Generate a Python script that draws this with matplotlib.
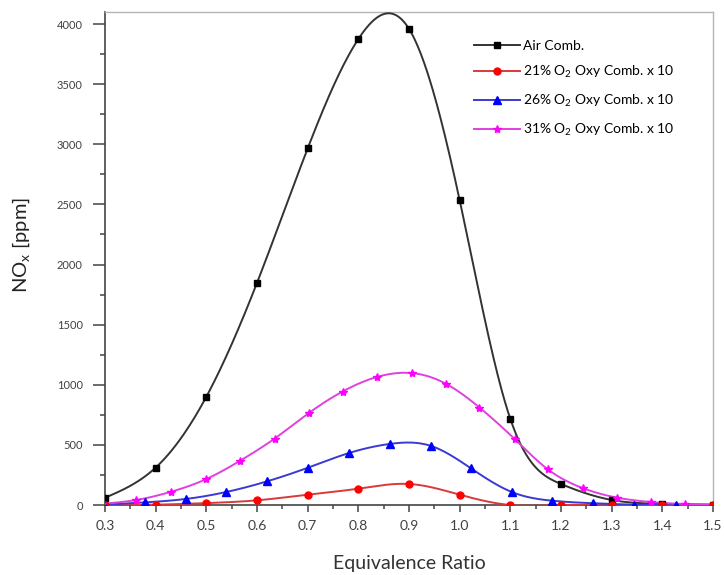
import numpy as np
import matplotlib
matplotlib.use("Agg")
import matplotlib.pyplot as plt
from matplotlib.ticker import MultipleLocator

plt.rcParams['font.family'] = ['Lato', 'DejaVu Sans']
plt.rcParams['mathtext.fontset'] = 'custom'
plt.rcParams['mathtext.rm'] = 'Lato'
plt.rcParams['mathtext.it'] = 'Lato:italic'

# NOx emissions vs. equivalence ratio (oxy-combustion series scaled x10)
air_phi = [0.3, 0.4, 0.5, 0.6, 0.7, 0.8, 0.9, 1.0, 1.1, 1.2, 1.3, 1.4, 1.5]
air_nox = [60, 311, 900, 1847, 2965, 3875, 3960, 2535, 716, 175, 42, 10, 3]

o21_phi = [0.3, 0.4, 0.5, 0.6, 0.7, 0.8, 0.9, 1.0, 1.1, 1.2, 1.3, 1.4, 1.5]
o21_nox = [0, 3, 16, 39, 86, 136, 175, 86, 0, 0, 0, 0, 0]

o26_phi = [0.299, 0.379, 0.459, 0.539, 0.620, 0.701, 0.782, 0.862, 0.943,
           1.022, 1.103, 1.182, 1.263, 1.345, 1.426, 1.506]
o26_nox = [3, 22, 50, 108, 197, 311, 433, 508, 492, 306, 108, 36, 15, 3, 0, 0]

o31_phi = [0.294, 0.362, 0.431, 0.499, 0.567, 0.635, 0.702, 0.769, 0.836, 0.906,
           0.973, 1.039, 1.109, 1.174, 1.244, 1.311, 1.378, 1.445, 1.512]
o31_nox = [10, 42, 111, 214, 369, 553, 764, 944, 1064, 1097, 1008, 811, 547,
           297, 139, 61, 25, 8, 3]


def spline_line(x, y, num=600):
    """Natural cubic spline through the measured points, for the connecting line."""
    x = np.asarray(x, float)
    y = np.asarray(y, float)
    n = len(x)
    h = np.diff(x)
    A = np.zeros((n, n))
    b = np.zeros(n)
    A[0, 0] = A[-1, -1] = 1.0
    for i in range(1, n - 1):
        A[i, i - 1] = h[i - 1]
        A[i, i] = 2 * (h[i - 1] + h[i])
        A[i, i + 1] = h[i]
        b[i] = 3 * ((y[i + 1] - y[i]) / h[i] - (y[i] - y[i - 1]) / h[i - 1])
    c = np.linalg.solve(A, b)
    bb = (y[1:] - y[:-1]) / h - h * (2 * c[:-1] + c[1:]) / 3
    d = (c[1:] - c[:-1]) / (3 * h)
    xs = np.linspace(x[0], x[-1], num)
    k = np.clip(np.searchsorted(x, xs) - 1, 0, n - 2)
    t = xs - x[k]
    ys = y[k] + bb[k] * t + c[k] * t ** 2 + d[k] * t ** 3
    return xs, ys


fig = plt.figure(figsize=(7.24, 5.75), dpi=100)
ax = fig.add_axes([0.145, 0.1217, 0.8398, 1 - 0.1217 - 12 / 575])

series = [
    (air_phi, air_nox, '#333333', 'black', 's', 4.2, 'Air Comb.'),
    (o21_phi, o21_nox, '#d83a3a', 'red', 'o', 5.0, '21% O$_2$ Oxy Comb. x 10'),
    (o26_phi, o26_nox, '#3a3ad0', 'blue', '^', 5.5, '26% O$_2$ Oxy Comb. x 10'),
    (o31_phi, o31_nox, '#e040e0', 'magenta', '*', 6.0, '31% O$_2$ Oxy Comb. x 10'),
]

handles = []
for phi, nox, lc, mc, mk, ms, label in series:
    xs, ys = spline_line(phi, nox)
    ax.plot(xs, ys, color=lc, lw=1.4, zorder=3)
    ax.plot(phi, nox, ls='none', marker=mk, ms=ms, color=mc, mec=mc, zorder=4)
    h, = ax.plot([], [], color=lc, lw=1.4, marker=mk, ms=ms, mfc=mc, mec=mc, label=label)
    handles.append(h)

ax.set_xlim(0.3, 1.5)
ax.set_ylim(0, 4100)
ax.xaxis.set_minor_locator(MultipleLocator(0.05))
ax.yaxis.set_major_locator(MultipleLocator(500))
ax.yaxis.set_minor_locator(MultipleLocator(250))
ax.set_xticks(np.arange(0.3, 1.51, 0.1))
ax.set_xticklabels([f'{v:.1f}' for v in np.arange(0.3, 1.51, 0.1)])

ax.tick_params(which='both', direction='out', color='#444444', width=1.1)
ax.tick_params(axis='x', which='major', length=5)
ax.tick_params(axis='x', which='minor', length=3)
ax.tick_params(axis='y', which='major', length=8.5)
ax.tick_params(axis='y', which='minor', length=3.6)
ax.tick_params(axis='x', labelsize=10, labelcolor='#404040', pad=6)
ax.tick_params(axis='y', labelsize=8, labelcolor='#404040', pad=7.5)

for side in ['left', 'bottom']:
    ax.spines[side].set_color('#444444')
    ax.spines[side].set_linewidth(1.2)
for side in ['top', 'right']:
    ax.spines[side].set_color('#b5b5b5')
    ax.spines[side].set_linewidth(1.0)

ax.set_xlabel('Equivalence Ratio', fontsize=14, color='#333333', labelpad=16)
ax.set_ylabel('NO$_\\mathrm{x}$ [ppm]', fontsize=14.5, color='#222222')
ax.yaxis.set_label_coords(-0.12, 0.527)

ax.legend(handles=handles, loc='upper left', bbox_to_anchor=(0.645, 0.943),
          bbox_transform=fig.transFigure, frameon=False, fontsize=10,
          handlelength=3.3, handletextpad=0.25, labelspacing=0.9, borderpad=0)

fig.savefig('out.png', dpi=100)
